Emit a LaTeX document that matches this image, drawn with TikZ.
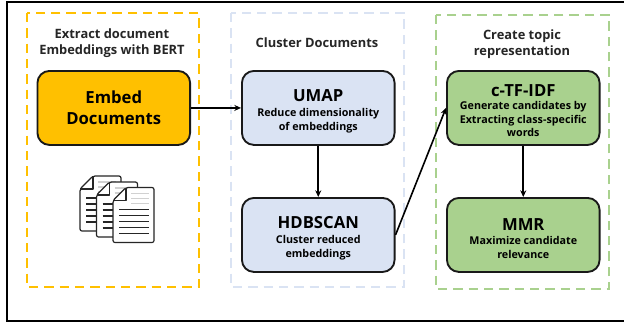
\documentclass[tikz,border=0pt]{standalone}
\usepackage{fontspec}
\setmainfont{Open Sans}
\usetikzlibrary{arrows.meta}
\definecolor{cyel}{HTML}{FFC000}
\definecolor{cblue}{HTML}{DAE3F3}
\definecolor{cgreen}{HTML}{A9D18E}
\newcommand{\docicon}[2]{%
  \begin{scope}[shift={(#1,#2)}]
    \fill[white,draw=black!85,line width=.9pt,rounded corners=1.5pt,line join=round]
      (13,0) -- (36,0) -- (41,0) -- (41,55) -- (0,55) -- (0,13) -- cycle;
    \draw[black!85,line width=.8pt,line join=round] (13,0) -- (13,13) -- (0,13);
    \foreach \y in {6,11,16}{\draw[black!18,line width=.9pt] (18,\y) -- (36,\y);}
    \foreach \y in {22,28,34,40,46}{\draw[black!85,line width=.9pt] (6,\y) -- (36,\y);}
  \end{scope}}
\tikzset{
  x=0.75pt,y=-0.75pt,
  panel/.style={dash pattern=on 7pt off 4.5pt,line width=1.4pt},
  proc/.style={draw=black!90,line width=1.4pt,rounded corners=9pt,minimum width=114.5pt,minimum height=55.5pt,align=center,inner sep=0pt,anchor=north west,font=\fontsize{8.05pt}{10.2pt}\selectfont\bfseries},
  captext/.style={font=\fontsize{9.65pt}{12.4pt}\selectfont\bfseries,align=center,text=black!85},
  link/.style={line width=1.2pt,-{Stealth[length=5pt,width=4.5pt]}},
  big/.style={font=\fontsize{12.5pt}{15.5pt}\selectfont\bfseries},
}
\newcommand{\ttl}[2][14pt]{{\fontsize{12.5pt}{15pt}\selectfont\rule{0pt}{#1}#2}}
\begin{document}
\begin{tikzpicture}
\useasboundingbox (0,0) rectangle (624,322);
\fill[white] (0,0) rectangle (624,322);
\draw[black,line width=1.5pt] (624,1.5) -- (6.5,1.5) -- (6.5,320.5) -- (624,320.5);
\draw[panel,cyel] (27,13) rectangle (199,287);
\draw[panel,cblue] (231,13) rectangle (404,287);
\draw[panel,cgreen] (436,15) rectangle (609,289);
\node[captext] (t1) at (112,43) {Extract document\\Embeddings with BERT};
\node[captext] (t2) at (317,43) {Cluster Documents};
\node[captext] (t3) at (522,44) {Create topic\\representation};
\node[proc,fill=cyel,big] (embed) at (36.5,70) {Embed\\Documents};
\node[proc,fill=cblue] (umap) at (241,70) {\ttl{UMAP}\\[0.7pt]Reduce dimensionality\\of embeddings};
\node[proc,fill=cblue] (hdb) at (241,197) {\ttl{HDBSCAN}\\[0.7pt]Cluster reduced\\embeddings};
\node[proc,fill=cgreen] (ctf) at (446,70) {\ttl[13pt]{c-TF-IDF}\\Generate candidates by\\Extracting class-specific\\words};
\node[proc,fill=cgreen] (mmr) at (446,197) {\ttl{MMR}\\[0.7pt]Maximize candidate\\relevance};
\draw[link] (embed.east) -- (umap.west);
\draw[link] (umap.south) -- (hdb.north);
\draw[link] (hdb.east) -- (ctf.west);
\draw[link] (ctf.south) -- (mmr.north);
\docicon{80}{176}
\docicon{96.5}{182}
\docicon{113}{187.5}
\end{tikzpicture}
\end{document}
